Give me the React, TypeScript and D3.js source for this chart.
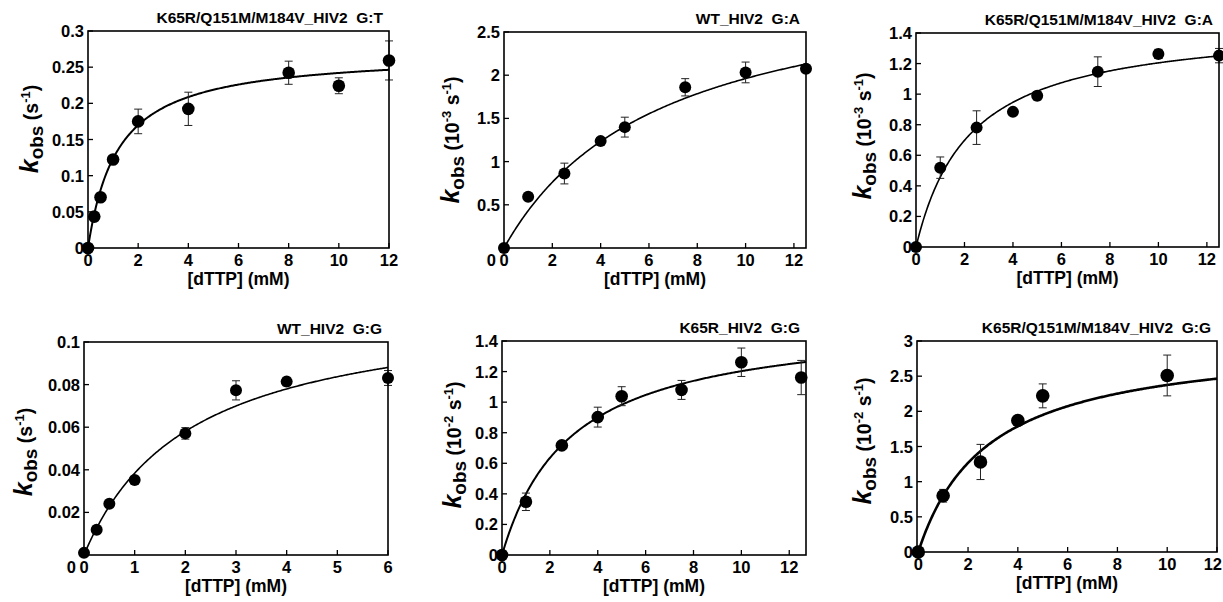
import React from "react";
import * as d3 from "d3";

// ---- data ----
const titles = [
  "K65R/Q151M/M184V_HIV2  G:T",
  "WT_HIV2  G:A",
  "K65R/Q151M/M184V_HIV2  G:A",
  "WT_HIV2  G:G",
  "K65R_HIV2  G:G",
  "K65R/Q151M/M184V_HIV2  G:G",
];
const yExponents = [null, "-3", "-3", null, "-2", "-2"];

const p1X = [0, 0.25, 0.5, 1, 2, 4, 8, 10, 12];
const p1Y = [0, 0.0434, 0.0701, 0.1223, 0.175, 0.1924, 0.2423, 0.2243, 0.2593];
const p1E = [0, 0.006, 0, 0, 0.017, 0.023, 0.016, 0.011, 0.027];

const p2X = [0, 1, 2.5, 4, 5, 7.5, 10, 12.5];
const p2Y = [0, 0.592, 0.862, 1.237, 1.399, 1.86, 2.032, 2.075];
const p2E = [0, 0, 0.12, 0.04, 0.115, 0.1, 0.12, 0.04];

const p3X = [0, 1, 2.5, 4, 5, 7.5, 10, 12.5];
const p3Y = [0, 0.519, 0.781, 0.884, 0.989, 1.147, 1.263, 1.252];
const p3E = [0, 0.07, 0.11, 0, 0.027, 0.097, 0.03, 0.047];

const p4X = [0, 0.25, 0.5, 1, 2, 3, 4, 6];
const p4Y = [0.001, 0.0119, 0.0241, 0.0352, 0.0571, 0.0773, 0.0814, 0.0831];
const p4E = [0, 0, 0, 0, 0.0027, 0.0045, 0.002, 0.0035];

const p5X = [0, 1, 2.5, 4, 5, 7.5, 10, 12.5];
const p5Y = [0, 0.348, 0.717, 0.902, 1.039, 1.08, 1.261, 1.161];
const p5E = [0, 0.057, 0, 0.065, 0.062, 0.062, 0.093, 0.112];

const p6X = [0, 1, 2.5, 4, 5, 10];
const p6Y = [0, 0.8, 1.28, 1.87, 2.22, 2.51];
const p6E = [0, 0.09, 0.25, 0.03, 0.17, 0.29];

// hyperbolic fit parameters (kpol, Kd)
const fitKmax = [0.2708, 3.236, 1.472, 0.1187, 1.549, 3.04];
const fitKd = [1.19, 6.5, 2.22, 2.09, 2.88, 2.8];

const xTicks12 = [0, 2, 4, 6, 8, 10, 12];
const xTicks6 = [0, 1, 2, 3, 4, 5, 6];
const yTicksP1 = [0, 0.05, 0.1, 0.15, 0.2, 0.25, 0.3];
const yTicksP2 = [0, 0.5, 1, 1.5, 2, 2.5];
const yTicksP3 = [0, 0.2, 0.4, 0.6, 0.8, 1, 1.2, 1.4];
const yTicksP4 = [0, 0.02, 0.04, 0.06, 0.08, 0.1];
const yTicksP5 = [0, 0.2, 0.4, 0.6, 0.8, 1, 1.2, 1.4];
const yTicksP6 = [0, 0.5, 1, 1.5, 2, 2.5, 3];

// ---- layout ----
const panels = [
  { xs: p1X, ys: p1Y, es: p1E, xd: [0, 12], yd: [0, 0.3], xt: xTicks12, yt: yTicksP1,
    L: 88, R: 389, T: 31, B: 248, lw: 2, r: 6.3, ylx: 38, yly: 129, zeroLow: false },
  { xs: p2X, ys: p2Y, es: p2E, xd: [0, 12.5], yd: [0, 2.5], xt: xTicks12, yt: yTicksP2,
    L: 504, R: 806, T: 32, B: 248, lw: 1.6, r: 6, ylx: 459, yly: 140, zeroLow: true },
  { xs: p3X, ys: p3Y, es: p3E, xd: [0, 12.5], yd: [0, 1.4], xt: xTicks12, yt: yTicksP3,
    L: 916, R: 1219, T: 33, B: 247, lw: 1.6, r: 6, ylx: 871, yly: 136, zeroLow: false },
  { xs: p4X, ys: p4Y, es: p4E, xd: [0, 6], yd: [0, 0.1], xt: xTicks6, yt: yTicksP4,
    L: 84, R: 388, T: 342, B: 555, lw: 1.6, r: 6, ylx: 32, yly: 452, zeroLow: true },
  { xs: p5X, ys: p5Y, es: p5E, xd: [0, 12.7], yd: [0, 1.4], xt: xTicks12, yt: yTicksP5,
    L: 502, R: 806, T: 341, B: 555, lw: 2, r: 6.3, ylx: 461, yly: 445, zeroLow: false },
  { xs: p6X, ys: p6Y, es: p6E, xd: [-0.05, 12], yd: [0, 3], xt: xTicks12, yt: yTicksP6,
    L: 917, R: 1217, T: 341, B: 552, lw: 2.6, r: 6.8, ylx: 871, yly: 441, zeroLow: false },
];

const FONT = "'Liberation Sans', Arial, Helvetica, sans-serif";
const TICK_FS = 16.5;
const fmt = (v: number) => String(+v.toFixed(3));

function YLabel({ x, y, exp }: { x: number; y: number; exp: string | null }) {
  return (
    <g transform={`translate(${x},${y}) rotate(-90)`}>
      <text textAnchor="middle" fontFamily={FONT} fontWeight="bold" fill="#000" style={{ whiteSpace: "pre" }}>
        <tspan fontStyle="italic" fontSize={25}>k</tspan>
        <tspan fontSize={19} dy={5}>obs</tspan>
        {exp ? (
          <>
            <tspan fontSize={19.5} dy={-5}> (10</tspan>
            <tspan fontSize={13} dy={-8}>{exp}</tspan>
            <tspan fontSize={19.5} dy={8}> s</tspan>
            <tspan fontSize={13} dy={-8}>-1</tspan>
            <tspan fontSize={19.5} dy={8}>)</tspan>
          </>
        ) : (
          <>
            <tspan fontSize={19.5} dy={-5}> (s</tspan>
            <tspan fontSize={13} dy={-8}>-1</tspan>
            <tspan fontSize={19.5} dy={8}>)</tspan>
          </>
        )}
      </text>
    </g>
  );
}

function Panel({ p, i }: { p: any; i: number }) {
  const x = d3.scaleLinear().domain(p.xd).range([p.L, p.R]);
  const y = d3.scaleLinear().domain(p.yd).range([p.B, p.T]);
  const curveXs = d3.range(0, p.xd[1] + 1e-9, p.xd[1] / 300);
  const line = d3
    .line<number>()
    .x((d) => x(d))
    .y((d) => y((fitKmax[i] * d) / (fitKd[i] + d)));
  const tickLen = 5;
  const cap = 4;
  return (
    <g>
      <path d={line(curveXs) || ""} fill="none" stroke="#000" strokeWidth={p.lw} />
      {p.xs.map((xv: number, k: number) =>
        p.es[k] > 0 ? (
          <g key={"e" + k} stroke="#222" strokeWidth={1}>
            <line x1={x(xv)} x2={x(xv)} y1={y(p.ys[k] - p.es[k])} y2={y(p.ys[k] + p.es[k])} />
            <line x1={x(xv) - cap} x2={x(xv) + cap} y1={y(p.ys[k] - p.es[k])} y2={y(p.ys[k] - p.es[k])} />
            <line x1={x(xv) - cap} x2={x(xv) + cap} y1={y(p.ys[k] + p.es[k])} y2={y(p.ys[k] + p.es[k])} />
          </g>
        ) : null
      )}
      {p.xs.map((xv: number, k: number) => (
        <circle key={"c" + k} cx={x(xv)} cy={y(p.ys[k])} r={p.r} fill="#000" />
      ))}
      <rect x={p.L} y={p.T} width={p.R - p.L} height={p.B - p.T} fill="none" stroke="#000" strokeWidth={1.6} />
      {p.xt.map((t: number) => {
        const tx = x(t);
        const nearEdge = tx + 10 > 1222;
        return (
          <g key={"xt" + t}>
            <line x1={tx} x2={tx} y1={p.B} y2={p.B - tickLen} stroke="#000" strokeWidth={1.3} />
            <text
              x={nearEdge ? 1222 : tx}
              y={p.B + 18}
              textAnchor={nearEdge ? "end" : "middle"}
              fontFamily={FONT}
              fontWeight="bold"
              fontSize={TICK_FS}
            >
              {fmt(t)}
            </text>
          </g>
        );
      })}
      {p.yt.map((t: number) => (
        <g key={"yt" + t}>
          <line x1={p.L} x2={p.L + tickLen} y1={y(t)} y2={y(t)} stroke="#000" strokeWidth={1.3} />
          <text
            x={p.L - (t === 0 && p.zeroLow ? 8 : 4)}
            y={t === 0 && p.zeroLow ? p.B + 18 : y(t) + 6}
            textAnchor="end"
            fontFamily={FONT}
            fontWeight="bold"
            fontSize={TICK_FS}
          >
            {fmt(t)}
          </text>
        </g>
      ))}
      <text
        x={p.R - 6}
        y={p.T - 8}
        textAnchor="end"
        fontFamily={FONT}
        fontWeight="bold"
        fontSize={15.5}
        style={{ whiteSpace: "pre" }}
      >
        {titles[i]}
      </text>
      <text x={(p.L + p.R) / 2} y={p.B + 37} textAnchor="middle" fontFamily={FONT} fontWeight="bold" fontSize={17.5}>
        [dTTP] (mM)
      </text>
      <YLabel x={p.ylx} y={p.yly} exp={yExponents[i]} />
    </g>
  );
}

export default function App() {
  return (
    <svg
      width={1223}
      height={602}
      viewBox="0 0 1223 602"
      style={{ position: "absolute", left: 0, top: 0, background: "#fff" }}
    >
      <rect x={0} y={0} width={1223} height={602} fill="#fff" />
      {panels.map((p, i) => (
        <Panel key={i} p={p} i={i} />
      ))}
    </svg>
  );
}
